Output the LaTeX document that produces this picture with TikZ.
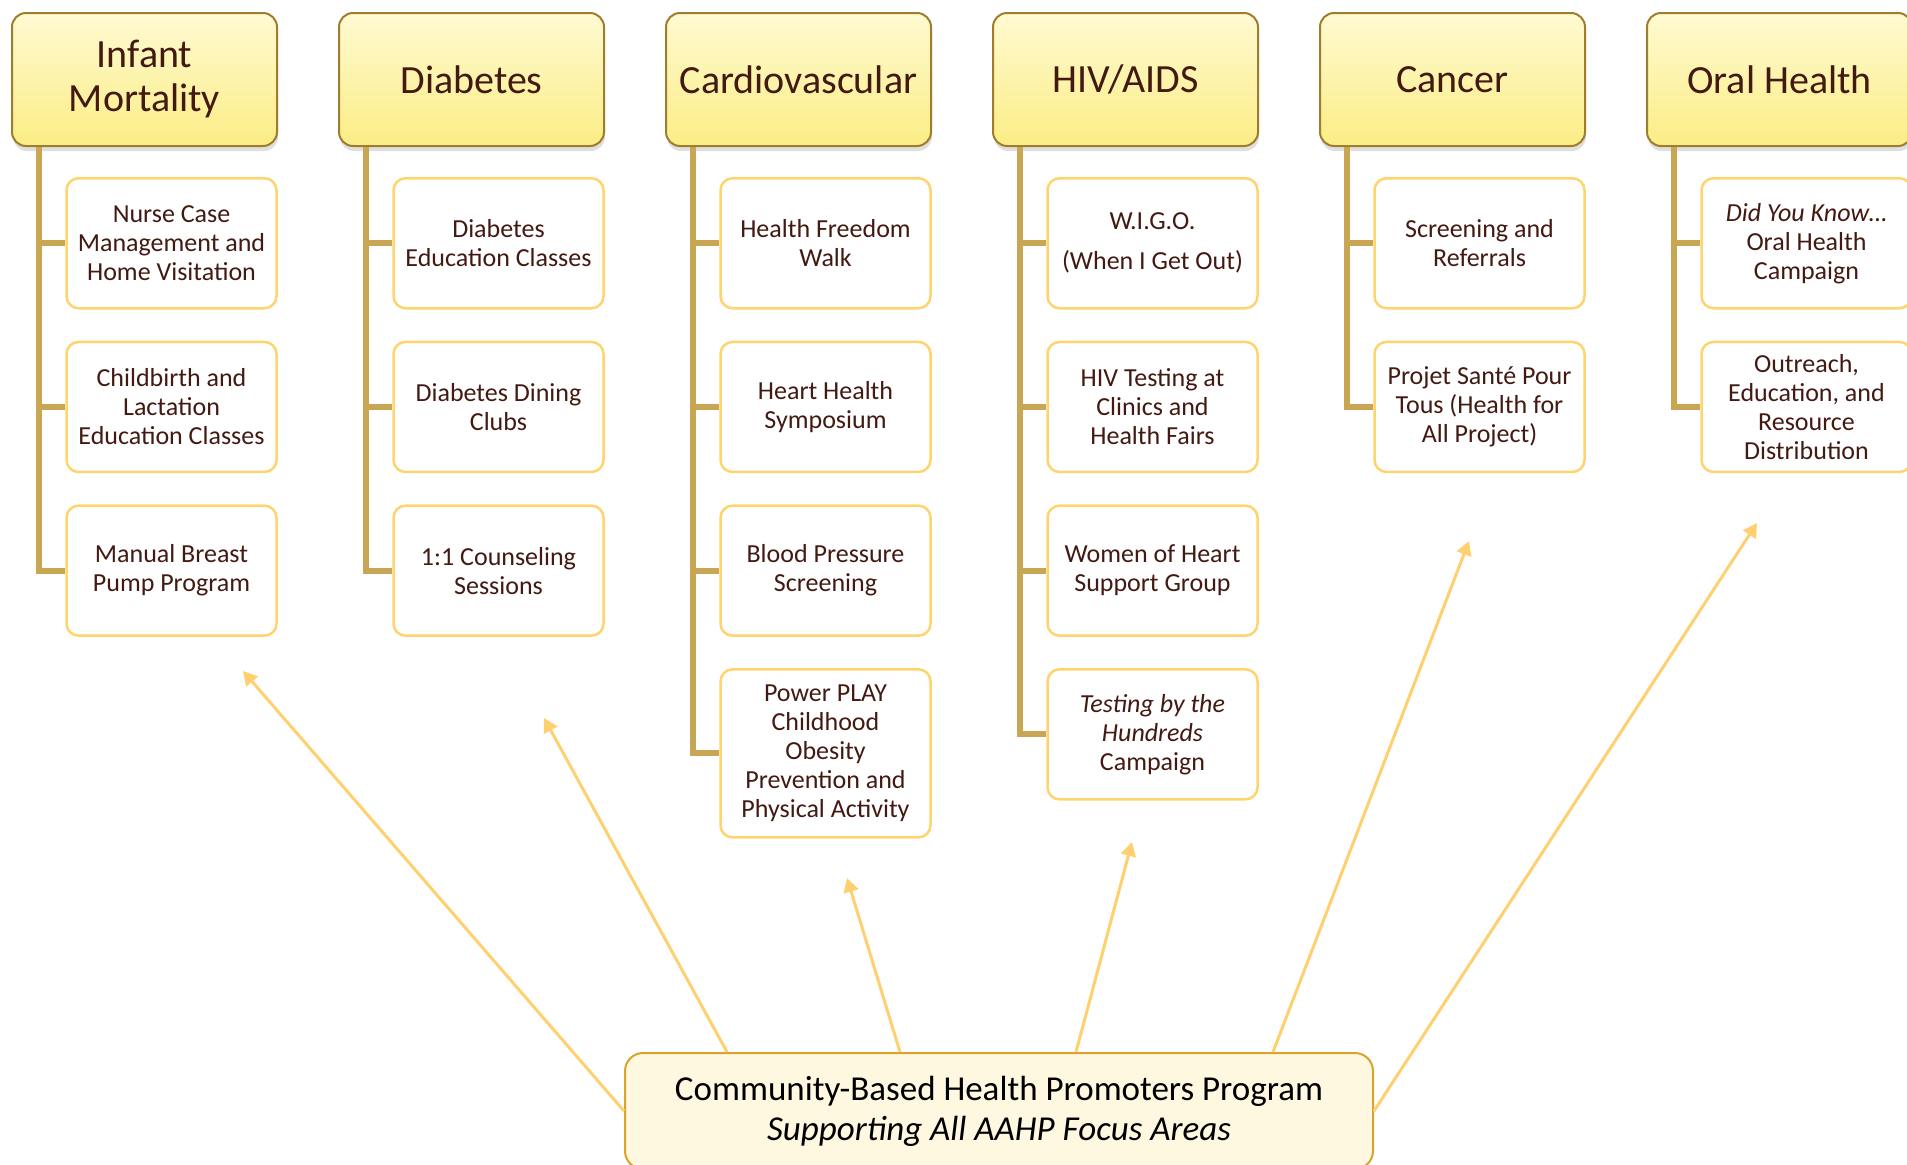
\documentclass[tikz,border=0pt]{standalone}
\usepackage{fontspec}
\setmainfont{Carlito}
\usepackage{tikz}
\usetikzlibrary{positioning}
\usetikzlibrary{arrows.meta}
\usetikzlibrary{shadows}

\definecolor{txtbrown}{HTML}{431A12}
\definecolor{headtop}{HTML}{FFFAD2}
\definecolor{headbot}{HTML}{FBED85}
\definecolor{headline}{HTML}{A07D2C}
\definecolor{childline}{HTML}{FFD46E}
\definecolor{trunkcol}{HTML}{C9A654}
\definecolor{spokecol}{HTML}{FFD070}
\definecolor{hubfill}{HTML}{FDF8DF}
\definecolor{hubline}{HTML}{D9A42B}

\begin{document}
\begin{tikzpicture}[
    x=1pt, y=-1pt,
    node distance=31.2pt and 60pt,
    areanode/.style={draw=headline,line width=2pt,rounded corners=14pt,
        top color=headtop,bottom color=headbot,
        drop shadow={shadow xshift=1pt,shadow yshift=-5pt,opacity=0.25},
        minimum width=265pt,minimum height=133pt,inner xsep=8pt,align=center,
        text=txtbrown,font=\fontsize{40}{44}\selectfont},
    subnode/.style={draw=childline,line width=2.5pt,fill=white,rounded corners=12pt,
        minimum width=210pt,minimum height=130pt,inner ysep=12pt,align=center,
        text=txtbrown,font=\fontsize{26}{29}\selectfont},
    hubnode/.style={draw=hubline,line width=2pt,fill=hubfill,rounded corners=18pt,
        minimum width=748pt,minimum height=116pt,align=center,
        font=\fontsize{35}{40}\selectfont},
    trunk/.style={draw=trunkcol,line width=6pt},
    spoke/.style={draw=spokecol,line width=3pt,-{Triangle[length=14pt,width=15pt]}}
    ]

    \useasboundingbox (0,0) rectangle (1907,1165);

    % focus areas
    \node[areanode] (h1) at (144.5,79.5) {Infant\\Mortality};
    \node[areanode,right=of h1] (h2) {Diabetes};
    \node[areanode,right=of h2] (h3) {Cardiovascular};
    \node[areanode,right=of h3] (h4) {HIV/AIDS};
    \node[areanode,right=of h4] (h5) {Cancer};
    \node[areanode,right=of h5] (h6) {Oral Health};

    % programs
    \node[subnode,below=30pt of h1,xshift=27pt] (im1) {Nurse Case\\Management and\\Home Visitation};
    \node[subnode,below=of im1] (im2) {Childbirth and\\Lactation\\Education Classes};
    \node[subnode,below=of im2] (im3) {Manual Breast\\Pump Program};

    \node[subnode,below=30pt of h2,xshift=27pt] (db1) {Diabetes\\Education Classes};
    \node[subnode,below=of db1] (db2) {Diabetes Dining\\Clubs};
    \node[subnode,below=of db2] (db3) {1:1 Counseling\\Sessions};

    \node[subnode,below=30pt of h3,xshift=27pt] (cv1) {Health Freedom\\Walk};
    \node[subnode,below=of cv1] (cv2) {Heart Health\\Symposium};
    \node[subnode,below=of cv2] (cv3) {Blood Pressure\\Screening};
    \node[subnode,below=of cv3,minimum height=168pt] (cv4) {Power PLAY\\Childhood\\Obesity\\Prevention and\\Physical Activity};

    \node[subnode,below=30pt of h4,xshift=27pt] (hv1) {W.I.G.O.\\[11pt](When I Get Out)};
    \node[subnode,below=of hv1] (hv2) {HIV Testing at\\Clinics and\\Health Fairs};
    \node[subnode,below=of hv2] (hv3) {Women of Heart\\Support Group};
    \node[subnode,below=of hv3] (hv4) {\textit{Testing by the}\\\textit{Hundreds}\\Campaign};

    \node[subnode,below=30pt of h5,xshift=27pt] (ca1) {Screening and\\Referrals};
    \node[subnode,below=of ca1] (ca2) {Projet Santé Pour\\Tous (Health for\\All Project)};

    \node[subnode,below=30pt of h6,xshift=27pt] (oh1) {\textit{Did You Know\ldots}\\Oral Health\\Campaign};
    \node[subnode,below=of oh1] (oh2) {Outreach,\\Education, and\\Resource\\Distribution};

    \draw[trunk] ([xshift=28pt]h1.south west) |- (im1.west)
        ([xshift=28pt]h1.south west) |- (im2.west)
        ([xshift=28pt]h1.south west) |- (im3.west);
    \draw[trunk] ([xshift=28pt]h2.south west) |- (db1.west)
        ([xshift=28pt]h2.south west) |- (db2.west)
        ([xshift=28pt]h2.south west) |- (db3.west);
    \draw[trunk] ([xshift=28pt]h3.south west) |- (cv1.west)
        ([xshift=28pt]h3.south west) |- (cv2.west)
        ([xshift=28pt]h3.south west) |- (cv3.west)
        ([xshift=28pt]h3.south west) |- (cv4.west);
    \draw[trunk] ([xshift=28pt]h4.south west) |- (hv1.west)
        ([xshift=28pt]h4.south west) |- (hv2.west)
        ([xshift=28pt]h4.south west) |- (hv3.west)
        ([xshift=28pt]h4.south west) |- (hv4.west);
    \draw[trunk] ([xshift=28pt]h5.south west) |- (ca1.west)
        ([xshift=28pt]h5.south west) |- (ca2.west);
    \draw[trunk] ([xshift=28pt]h6.south west) |- (oh1.west)
        ([xshift=28pt]h6.south west) |- (oh2.west);

    % health promoters
    \node[hubnode] (prog) at (999,1111) {Community-Based Health Promoters Program\\\textit{Supporting All AAHP Focus Areas}};

    \coordinate (t1) at (243,671);
    \coordinate (t2) at (544,718);
    \coordinate (t3) at (847,878);
    \coordinate (t4) at (1132,842);
    \coordinate (t5) at (1469,541);
    \coordinate (t6) at (1757,523);

    \draw[spoke] (prog.west) -- (t1);
    \draw[spoke] ([xshift=-272pt]prog.north) -- (t2);
    \draw[spoke] ([xshift=-99pt]prog.north) -- (t3);
    \draw[spoke] ([xshift=77pt]prog.north) -- (t4);
    \draw[spoke] ([xshift=274pt]prog.north) -- (t5);
    \draw[spoke] (prog.east) -- (t6);

\end{tikzpicture}
\end{document}
